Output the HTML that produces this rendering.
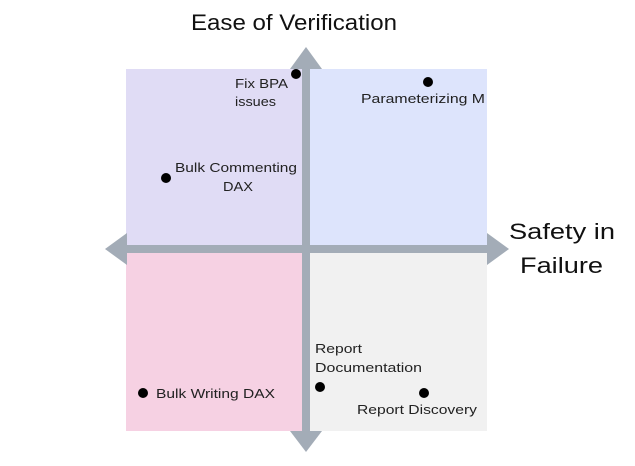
<!DOCTYPE html>
<html><head><style>body{margin:0;background:#fff}</style></head><body>
<svg width="635" height="461" xmlns="http://www.w3.org/2000/svg" font-family="Liberation Sans, sans-serif">
<rect x="126" y="69" width="178" height="178" fill="#e0dcf5"/>
<rect x="308" y="69" width="179" height="178" fill="#dde4fc"/>
<rect x="126" y="251" width="178" height="180" fill="#f6d1e3"/>
<rect x="308" y="251" width="179" height="180" fill="#f1f1f1"/>
<rect x="302" y="66" width="8" height="368" fill="#a3acb7"/>
<rect x="122" y="245" width="370" height="8" fill="#a3acb7"/>
<polygon points="306,47 322,69 290,69" fill="#a3acb7"/>
<polygon points="306,452 322,431 290,431" fill="#a3acb7"/>
<polygon points="105,249 127,233 127,265" fill="#a3acb7"/>
<polygon points="509,249 487,233 487,265" fill="#a3acb7"/>
<g fill="#000">
<circle cx="296" cy="74" r="5"/><circle cx="428" cy="82" r="5"/>
<circle cx="166" cy="178" r="5"/><circle cx="143" cy="393" r="5"/>
<circle cx="320" cy="387" r="5"/><circle cx="424" cy="393" r="5"/>
</g>
<g font-size="13" fill="#222" lengthAdjust="spacingAndGlyphs">
<text x="235" y="88" textLength="53" lengthAdjust="spacingAndGlyphs">Fix BPA</text><text x="235" y="106" textLength="41" lengthAdjust="spacingAndGlyphs">issues</text>
<text x="361" y="103" textLength="124" lengthAdjust="spacingAndGlyphs">Parameterizing M</text>
<text x="175" y="172" textLength="122" lengthAdjust="spacingAndGlyphs">Bulk Commenting</text><text x="223" y="191" textLength="30" lengthAdjust="spacingAndGlyphs">DAX</text>
<text x="156" y="398" textLength="119" lengthAdjust="spacingAndGlyphs">Bulk Writing DAX</text>
<text x="315" y="353" textLength="47" lengthAdjust="spacingAndGlyphs">Report</text><text x="315" y="372" textLength="107" lengthAdjust="spacingAndGlyphs">Documentation</text>
<text x="357" y="414" textLength="120" lengthAdjust="spacingAndGlyphs">Report Discovery</text>
</g>
<text x="191" y="30" font-size="22" textLength="206" lengthAdjust="spacingAndGlyphs" fill="#111">Ease of Verification</text>
<text x="509" y="239" font-size="22" textLength="106" lengthAdjust="spacingAndGlyphs" fill="#111">Safety in</text>
<text x="520" y="273" font-size="22" textLength="83" lengthAdjust="spacingAndGlyphs" fill="#111">Failure</text>
</svg>
</body></html>
